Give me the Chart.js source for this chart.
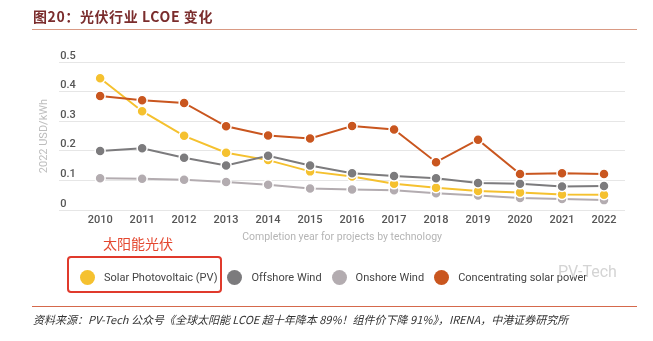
<!DOCTYPE html>
<html>
<head>
<meta charset="utf-8">
<script src="https://cdn.jsdelivr.net/npm/chart.js@4"></script>
<style>
  body { margin: 0; background: #fff; }
  #wrap { position: relative; width: 653px; height: 341px; overflow: hidden; font-family: Roboto, "Noto Sans", sans-serif; }
  #chartBox { position: absolute; left: 0; top: 0; width: 653px; height: 341px; }
  .title { position: absolute; left: 33px; top: 6px; font: bold 14px "Noto Sans CJK SC", sans-serif; color: #7b2d2d; letter-spacing: 0.6px; }
  .rule { position: absolute; left: 32px; width: 605px; height: 1px; }
  .note { position: absolute; left: 103px; top: 233px; font: 14px "Noto Sans CJK SC", sans-serif; color: #e4472f; }
  .redbox { position: absolute; left: 67px; top: 256px; width: 151px; height: 33px; border: 2px solid #e03a2c; border-radius: 4px; }
  #legend { position: absolute; left: 80px; top: 270px; display: flex; align-items: center; font: 11px Roboto, sans-serif; color: #444; }
  #legend .item { display: flex; align-items: center; margin-right: 10px; white-space: nowrap; }
  #legend .dot { width: 15px; height: 15px; border-radius: 50%; margin-right: 9px; }
  .ylab { position: absolute; font: 500 11px/13px Roboto, sans-serif; color: #555; }
  .mark { position: absolute; left: 558px; top: 262px; font: 16px Roboto, sans-serif; color: #d4d4d4; }
  .source { position: absolute; left: 33px; top: 311px; font: italic 11px "Noto Sans CJK SC", sans-serif; color: #333; }
</style>
</head>
<body>
<div id="wrap">
  <div id="chartBox"><canvas id="lcoeChart"></canvas></div>
  <div class="title">图20：光伏行业 LCOE 变化</div>
  <div class="rule" style="top:29px;background:#d99a84;"></div>
  <div class="note">太阳能光伏</div>
  <div class="redbox"></div>
  <div id="legend"></div>
  <div class="mark">PV-Tech</div>
  <div class="rule" style="top:306px;background:#d5694c;"></div>
  <div class="source">资料来源：PV-Tech 公众号《全球太阳能 LCOE 超十年降本 89%！组件价下降 91%》，IRENA，中港证券研究所</div>
</div>
<script>
const years = [2010, 2011, 2012, 2013, 2014, 2015, 2016, 2017, 2018, 2019, 2020, 2021, 2022];
const solarPV = [0.445, 0.334, 0.251, 0.194, 0.169, 0.131, 0.114, 0.089, 0.076, 0.065, 0.060, 0.053, 0.052];
const offshoreWind = [0.200, 0.209, 0.177, 0.151, 0.184, 0.151, 0.125, 0.115, 0.108, 0.092, 0.089, 0.080, 0.082];
const onshoreWind = [0.108, 0.106, 0.103, 0.095, 0.086, 0.073, 0.070, 0.067, 0.057, 0.050, 0.041, 0.038, 0.034];
const csp = [0.385, 0.371, 0.362, 0.283, 0.252, 0.242, 0.284, 0.272, 0.162, 0.238, 0.122, 0.125, 0.122];
const yTicks = [0, 0.1, 0.2, 0.3, 0.4, 0.5];
const yTickLabels = ['0', '0.1', '0.2', '0.3', '0.4', '0.5'];

const toPoints = (vals) => vals.map((v, i) => ({ x: years[i], y: v }));

function series(label, vals, color, order) {
    return {
        label: label,
        data: toPoints(vals),
        borderColor: color,
        backgroundColor: color,
        borderWidth: 2,
        pointRadius: 5,
        pointBorderColor: '#fff',
        pointBorderWidth: 1.5,
        pointBackgroundColor: color,
        order: order
    };
}

const chart = new Chart(document.getElementById('lcoeChart'), {
    type: 'line',
    data: {
        datasets: [
            series('Solar Photovoltaic (PV)', solarPV, '#f5c12f', 2),
            series('Offshore Wind', offshoreWind, '#7c7b7d', 1),
            series('Onshore Wind', onshoreWind, '#b3acb0', 3),
            series('Concentrating solar power', csp, '#c9561f', 0)
        ]
    },
    options: {
        responsive: true,
        maintainAspectRatio: false,
        animation: false,
        layout: { padding: { left: 38, right: 28, top: 62, bottom: 93 } },
        plugins: { legend: { display: false }, tooltip: { enabled: false } },
        scales: {
            x: {
                type: 'linear',
                min: 2009.025,
                max: 2022.5,
                afterBuildTicks: (s) => { s.ticks = years.map(v => ({ value: v })); },
                grid: { display: false, drawTicks: false },
                border: { display: false },
                ticks: {
                    padding: 3,
                    autoSkip: false,
                    maxRotation: 0,
                    color: '#555',
                    font: { family: 'Roboto', size: 11, weight: '500' },
                    callback: (v) => String(v)
                },
                title: {
                    display: true,
                    text: 'Completion year for projects by technology',
                    color: '#b5b5b5',
                    font: { family: 'Roboto', size: 10.5 },
                    padding: { top: 2, bottom: 4 }
                }
            },
            y: {
                min: 0,
                max: 0.5,
                afterBuildTicks: (s) => { s.ticks = yTicks.map(v => ({ value: v })); },
                grid: { color: '#e6e6e6', drawTicks: false },
                border: { display: false },
                ticks: { display: false },
                title: {
                    display: true,
                    text: '2022 USD/kWh',
                    color: '#bdbdbd',
                    font: { family: 'Roboto', size: 11 },
                    padding: { top: 0, bottom: 8 }
                }
            }
        }
    }
});

// y labels sit just above their grid line, at its left end (placed from the y scale)
const wrap = document.getElementById('wrap');
const yScale = chart.scales.y;
const area = chart.chartArea;
yTicks.forEach((v, i) => {
    const lab = document.createElement('div');
    lab.className = 'ylab';
    lab.textContent = yTickLabels[i];
    lab.style.left = (area.left + 1) + 'px';
    lab.style.top = (yScale.getPixelForValue(v) - 7 - 6.5) + 'px';
    wrap.appendChild(lab);
});
// top grid line at the axis maximum
const topLine = document.createElement('div');
topLine.style.cssText = 'position:absolute;height:1px;background:#e6e6e6;';
topLine.style.left = area.left + 'px';
topLine.style.width = (area.right - area.left) + 'px';
topLine.style.top = Math.round(yScale.getPixelForValue(yTicks[yTicks.length - 1]) - 0.5) + 'px';
wrap.appendChild(topLine);

// legend built from the datasets
const legendEl = document.getElementById('legend');
chart.data.datasets.forEach(ds => {
    const item = document.createElement('div');
    item.className = 'item';
    const dot = document.createElement('span');
    dot.className = 'dot';
    dot.style.background = ds.borderColor;
    const txt = document.createElement('span');
    txt.textContent = ds.label;
    item.appendChild(dot);
    item.appendChild(txt);
    legendEl.appendChild(item);
});
</script>
</body>
</html>
